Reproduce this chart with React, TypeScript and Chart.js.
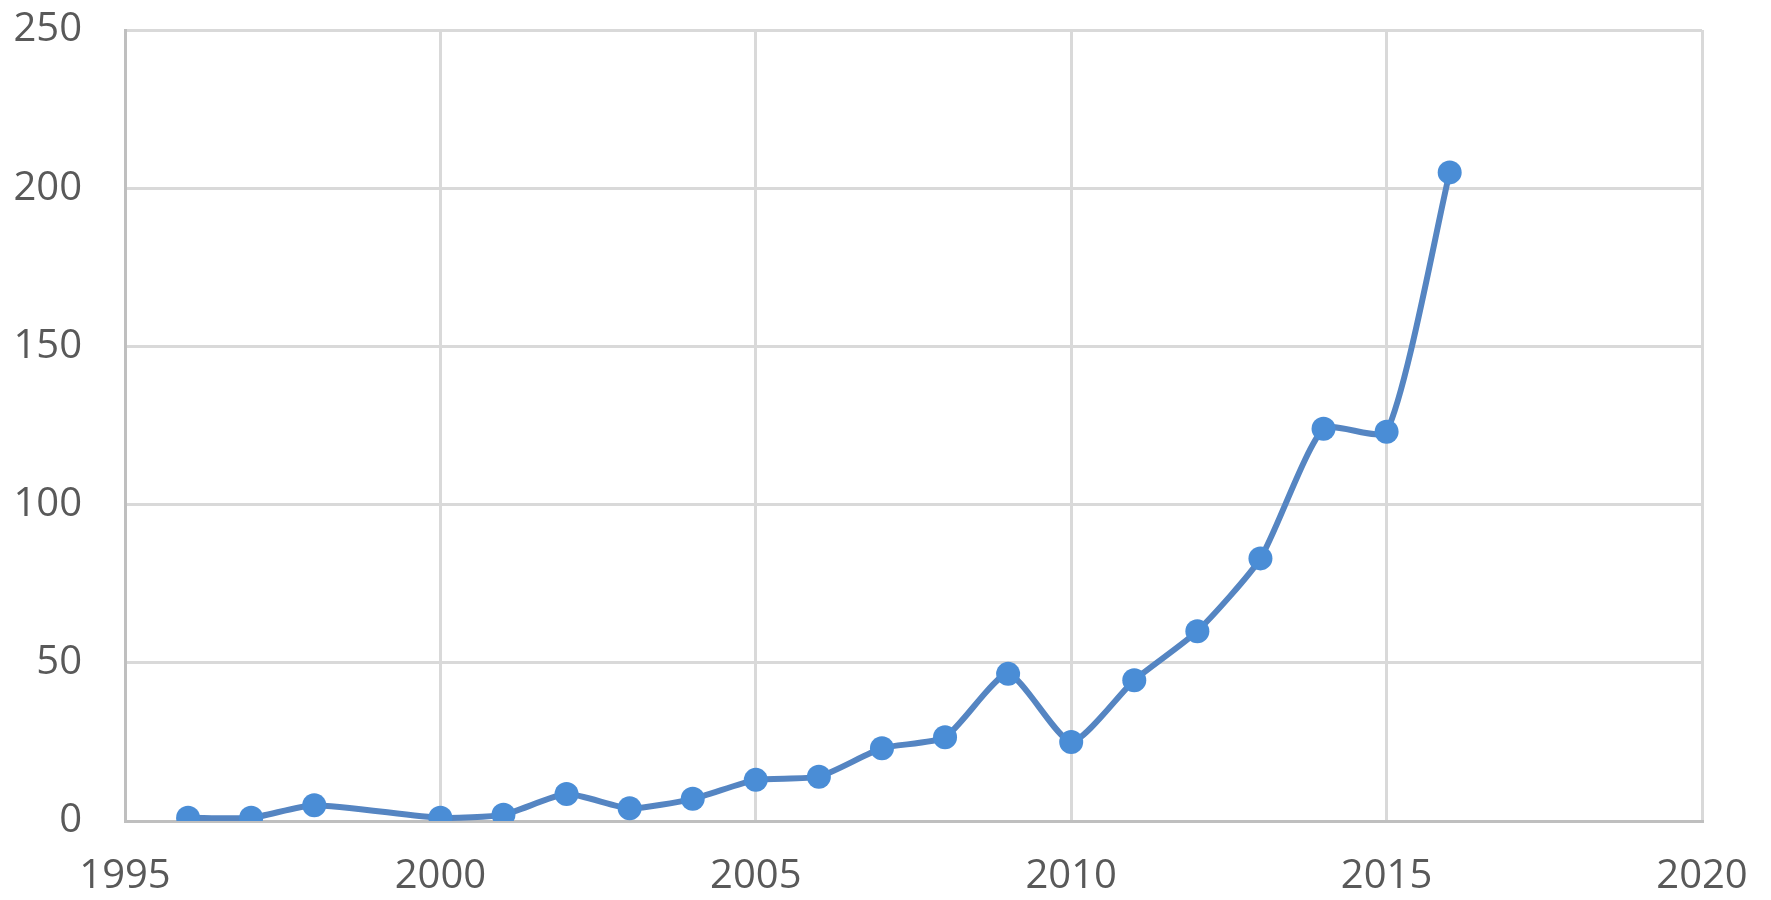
import React, { useEffect, useRef } from "react";
import { Chart, registerables } from "chart.js";

Chart.register(...registerables);

const years = [1996, 1997, 1998, 2000, 2001, 2002, 2003, 2004, 2005, 2006, 2007, 2008, 2009, 2010, 2011, 2012, 2013, 2014, 2015, 2016];
const counts = [1, 1, 5, 1, 2, 8.5, 4, 7, 13, 14, 23, 26.5, 46.5, 25, 44.5, 60, 83, 124, 123, 205];

const xMin = 1995;
const xMax = 2020;
const xStep = 5;
const yMin = 0;
const yMax = 250;
const yStep = 50;

export default function App() {
  const ref = useRef<HTMLCanvasElement | null>(null);

  useEffect(() => {
    if (!ref.current) return;
    const font = { family: "'Open Sans', sans-serif", size: 40 };
    const chart = new Chart(ref.current, {
      type: "line",
      data: {
        datasets: [
          {
            data: years.map((y, i) => ({ x: y, y: counts[i] })),
            borderColor: "#5585c2",
            backgroundColor: "#4a8dd6",
            borderWidth: 6,
            pointRadius: 12,
            pointBorderWidth: 0,
            pointBackgroundColor: "#4a8dd6",
            tension: 0.2,
            fill: false,
          },
        ],
      },
      options: {
        animation: false,
        responsive: false,
        maintainAspectRatio: false,
        layout: { autoPadding: false, padding: { left: 0, top: 30, right: 69, bottom: 0 } },
        plugins: { legend: { display: false }, tooltip: { enabled: false } },
        scales: {
          x: {
            type: "linear",
            min: xMin,
            max: xMax,
            ticks: {
              stepSize: xStep,
              color: "#595959",
              font,
              padding: 32,
              callback: (v: any) => String(v),
              maxRotation: 0,
            },
            grid: { color: "#d9d9d9", lineWidth: 3, drawTicks: false },
            border: { color: "#bfbfbf", width: 3 },
            afterFit: (s: any) => {
              s.height = 79;
              s.paddingLeft = 0;
              s.paddingRight = 0;
            },
          },
          y: {
            min: yMin,
            max: yMax,
            ticks: {
              stepSize: yStep,
              color: "#595959",
              font,
              padding: 43,
            },
            grid: { color: "#d9d9d9", lineWidth: 3, drawTicks: false },
            border: { color: "#bfbfbf", width: 3 },
            afterFit: (s: any) => {
              s.width = 125;
              s.paddingTop = 0;
              s.paddingBottom = 0;
            },
          },
        },
      },
    });
    return () => chart.destroy();
  }, []);

  return (
    <div style={{ position: "fixed", left: 0, top: 0, width: 1771, height: 900, background: "#fff" }}>
      <canvas ref={ref} width={1771} height={900} style={{ width: 1771, height: 900, display: "block" }} />
    </div>
  );
}
